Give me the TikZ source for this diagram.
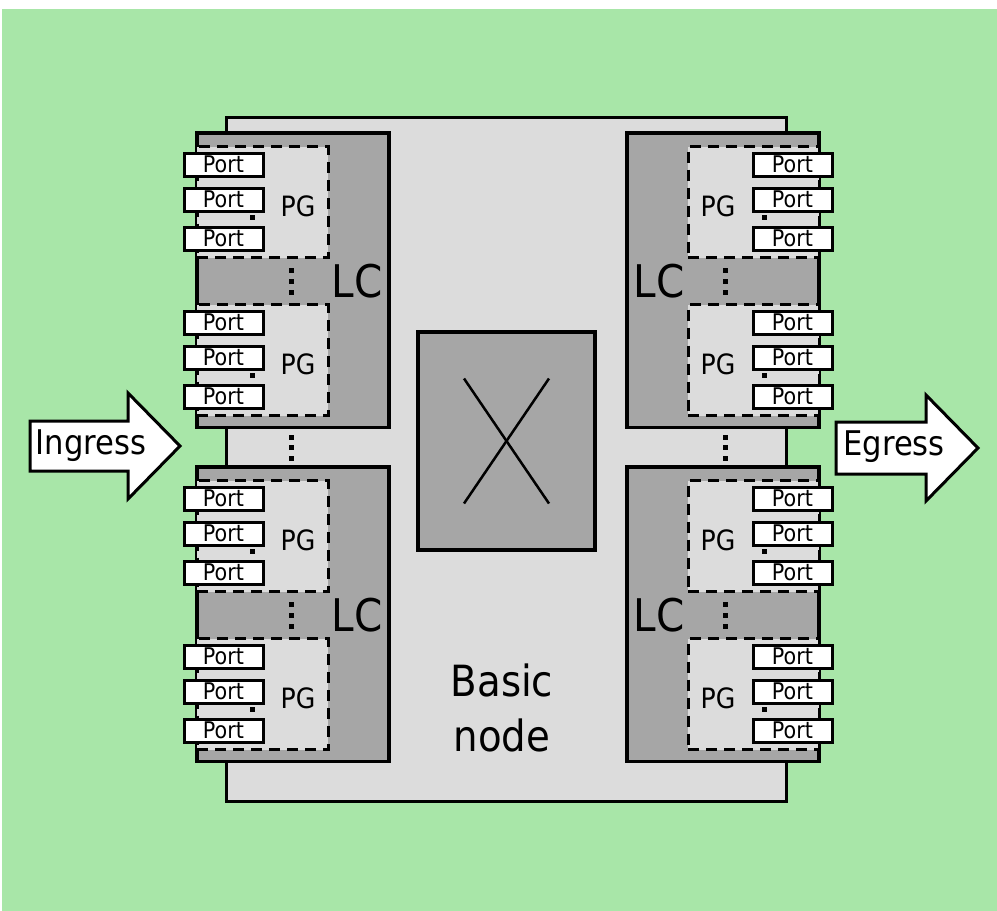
\documentclass[tikz,border=0pt]{standalone}
\usepackage{fontspec}
\setmainfont{DejaVu Sans}[FakeStretch=0.9]
\usetikzlibrary{positioning,calc}
\definecolor{bggreen}{RGB}{168,230,168}
\definecolor{lightgr}{RGB}{220,220,220}
\definecolor{darkgr}{RGB}{166,166,166}
\tikzset{
  bnbox/.style={draw,line width=3pt,fill=lightgr,inner sep=0pt},
  lcbox/.style={draw,line width=3.2pt,fill=darkgr,inner sep=0pt,
    minimum width=192pt,minimum height=294.5pt},
  pgbox/.style={draw,line width=3pt,dash pattern=on 11pt off 7pt,fill=lightgr,
    inner sep=0pt,minimum width=131pt,minimum height=111pt},
  portbox/.style={draw,line width=3pt,fill=white,inner sep=0pt,
    minimum width=79pt,minimum height=23pt,font=\fontsize{23}{27}\selectfont},
  dotsq/.style={fill,inner sep=0pt,minimum width=5pt,minimum height=5pt},
  pglabel/.style={inner sep=0pt,font=\fontsize{28}{32}\selectfont},
  lclabel/.style={inner sep=0pt,font=\fontsize{45}{50}\selectfont},
  arrbody/.style={draw,fill=white,line width=3pt,line join=miter},
  arrtext/.style={inner sep=0pt,anchor=base,font=\fontsize{34}{40}\selectfont},
}
% one line card, left side; #1 name, #2 top edge
\newcommand{\linecard}[2]{%
  \node[lcbox] (#1) at (293,#2+147.25) {};
  \foreach \p/\dy in {1/13.5,2/171.5}{
    \node[pgbox] (#1-pg\p) at (262.5,#2+\dy+55.5) {};
    \foreach \q/\qy in {1/18,2/53,3/92}
      \node[portbox] (#1-pg\p-port\q) at (223.5,#2+\dy+\qy) {Port};
    \node[dotsq] (#1-pg\p-dot) at (252,#2+\dy+71) {};
    \node[pglabel] (#1-pg\p-lbl) at (298,#2+\dy+60) {PG};
  }
  \foreach \k/\ky in {1/137.5,2/148.5,3/159.5}
    \node[dotsq] (#1-vd\k) at (291,#2+\ky) {};
  \node[lclabel] (#1-lbl) at (357,#2+148) {LC};
}

\begin{document}
\begin{tikzpicture}[x=1pt,y=-1pt]
  \useasboundingbox (0,0) rectangle (997,911);
  \fill[bggreen] (2,9) rectangle (997,911);

  % basic node and switch fabric
  \node[bnbox,minimum width=560pt,minimum height=684pt] (basic) at (506,459) {};
  \node[lcbox,minimum width=177pt,minimum height=218pt] (xbar) at (506.5,441) {};
  \draw[line width=2.5pt] (xbar.center) ++(-42.5,-62.5) -- ++(85,125);
  \draw[line width=2.5pt] (xbar.center) ++(42.5,-62.5) -- ++(-85,125);
  \node[inner sep=0pt,anchor=north,align=center,font=\fontsize{43}{55}\selectfont]
    (bnlabel) at (502,664) {Basic\\node};

  % line cards
  \linecard{a}{133}
  \linecard{b}{467}
  \begin{scope}[xshift=1016pt,xscale=-1]
    \linecard{c}{133}
    \linecard{d}{467}
  \end{scope}
  \foreach \k/\ky in {1/437,2/447.5,3/458}{
    \node[dotsq] (ld\k) at (291,\ky) {};
    \node[dotsq] (rd\k) at (725,\ky) {};
  }

  % ingress / egress
  \draw[arrbody] (30,421) -- (128,421) -- (128,393) -- (180,446)
    -- (128,499) -- (128,471) -- (30,471) -- cycle;
  \node[arrtext] (ingress) at (91,454) {Ingress};
  \draw[arrbody] (836,422) -- (926,422) -- (926,395) -- (978,448)
    -- (926,501) -- (926,474) -- (836,474) -- cycle;
  \node[arrtext] (egress) at (894,455) {Egress};
\end{tikzpicture}
\end{document}
